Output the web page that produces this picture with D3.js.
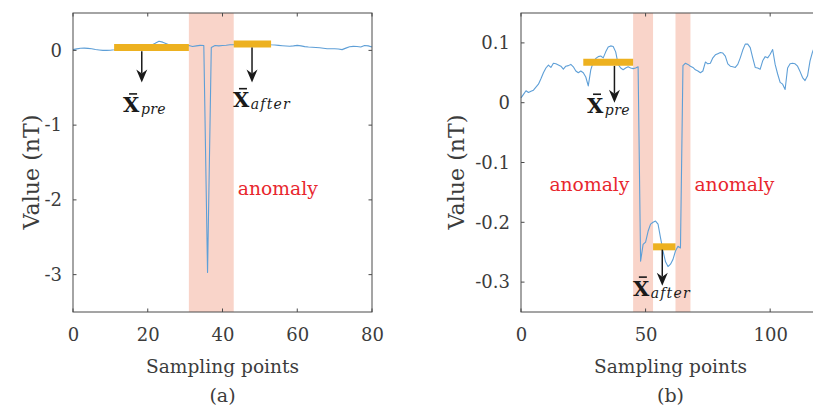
<!DOCTYPE html>
<html>
<head>
<meta charset="utf-8">
<script src="https://cdn.jsdelivr.net/npm/d3@7"></script>
<style>
  html, body { margin: 0; padding: 0; background: #fff; }
  svg { display: block; }
  svg text { font-family: "DejaVu Serif", serif; }
</style>
</head>
<body>
<svg id="chart" width="813" height="408"></svg>
<script>
// ---- data -----------------------------------------------------------------
// (a) single-spike record, 81 samples
const seriesA = [
  0.010, 0.020, 0.028, 0.030, 0.027, 0.022, 0.012, 0.006, 0.000, 0.000,
  0.002, 0.008, 0.020, 0.030, 0.035, 0.040, 0.030, 0.025, 0.030, 0.040,
  0.050, 0.070, 0.095, 0.122, 0.110, 0.090, 0.070, 0.060, 0.050, 0.055,
  0.060, 0.065, 0.052, 0.060, 0.067, 0.065, -2.970, 0.040, 0.065, 0.060,
  0.065, 0.068, 0.075, 0.076, 0.080, 0.085, 0.090, 0.085, 0.080, 0.085,
  0.090, 0.088, 0.082, 0.076, 0.072, 0.067, 0.062, 0.058, 0.055, 0.060,
  0.067, 0.060, 0.050, 0.045, 0.042, 0.038, 0.035, 0.028, 0.022, 0.022,
  0.022, 0.018, 0.010, 0.030, 0.048, 0.054, 0.052, 0.045, 0.065, 0.060,
  0.045
];
// (b) step-like record, 120 samples
const seriesB = [
  0.008, 0.014, 0.020, 0.017, 0.019, 0.021, 0.026, 0.031, 0.040, 0.050,
  0.058, 0.063, 0.059, 0.066, 0.065, 0.063, 0.061, 0.056, 0.061, 0.062,
  0.064, 0.060, 0.053, 0.050, 0.053, 0.050, 0.043, 0.028, 0.055, 0.068,
  0.074, 0.077, 0.078, 0.075, 0.085, 0.093, 0.095, 0.094, 0.085, 0.064,
  0.058, 0.055, 0.058, 0.060, 0.058, 0.057, 0.058, 0.060, -0.265, -0.237,
  -0.233, -0.215, -0.203, -0.200, -0.198, -0.203, -0.226, -0.248, -0.266, -0.274,
  -0.270, -0.262, -0.248, -0.240, -0.243, 0.062, 0.066, 0.064, 0.061, 0.059,
  0.055, 0.053, 0.050, 0.053, 0.068, 0.065, 0.066, 0.075, 0.080, 0.082,
  0.084, 0.083, 0.078, 0.065, 0.061, 0.060, 0.059, 0.064, 0.075, 0.088,
  0.098, 0.098, 0.092, 0.075, 0.059, 0.058, 0.056, 0.070, 0.077, 0.075,
  0.081, 0.089, 0.064, 0.048, 0.034, 0.031, 0.022, 0.058, 0.065, 0.066,
  0.065, 0.061, 0.052, 0.042, 0.037, 0.045, 0.070, 0.085, 0.095, 0.090
];

// anomaly windows [start, end] in sample index
const anomalyA = [[31, 43]];
const anomalyB = [[45, 53], [62, 68]];

// window means drawn as horizontal bars: [start, end, mean]
const meansA = [[11, 31, 0.04], [43, 53, 0.085]];
const meansB = [[25, 45, 0.0675], [53, 62, -0.241]];

// axis ticks
const xTicksA = [0, 20, 40, 60, 80];
const yTicksA = [0, -1, -2, -3];
const xTicksB = [0, 50, 100];
const yTicksB = [0.1, 0, -0.1, -0.2, -0.3];

// ---- layout ---------------------------------------------------------------
const svg = d3.select("#chart");
const C = {
  line: "#5e9fd7",
  band: "#f9d4c9",
  mean: "#edb120",
  axis: "#4a4a4a",
  tick: "#3c3c3c",
  red: "#e8262d"
};

const panels = [
  {
    data: seriesA, anomaly: anomalyA, means: meansA,
    xDomain: [0, 80], yDomain: [-3.5, 0.5],
    xTicks: xTicksA, yTicks: yTicksA, yFmt: d3.format("d"),
    left: 73, right: 372, caption: "(a)", ylabelX: 31,
    arrows: [[18.4, -0.013, -0.43], [47.9, 0.04, -0.43]],
    labels: [
      { x: 13.4, y: -0.83, sub: "pre" },
      { x: 42.8, y: -0.76, sub: "after" }
    ],
    anomalyText: [[44.1, -1.94]]
  },
  {
    data: seriesB, anomaly: anomalyB, means: meansB,
    xDomain: [0, 120], yDomain: [-0.35, 0.15],
    xTicks: xTicksB, yTicks: yTicksB, yFmt: d => d === 0 ? "0" : d3.format(".1f")(d),
    left: 521, right: 820, caption: "(b)", ylabelX: 456,
    arrows: [[37.5, 0.0615, 0.0], [56.7, -0.2457, -0.3059]],
    labels: [
      { x: 26.5, y: -0.0168, sub: "pre" },
      { x: 44.9, y: -0.3226, sub: "after" }
    ],
    anomalyText: [[11.4, -0.148], [69.6, -0.148]]
  }
];

const plotTop = 13, plotBottom = 312;
const hyphen = s => String(s).replace("\u2212", "-");

panels.forEach(p => {
  const x = d3.scaleLinear().domain(p.xDomain).range([p.left, p.right]);
  const y = d3.scaleLinear().domain(p.yDomain).range([plotBottom, plotTop]);
  const g = svg.append("g");

  // anomaly windows
  g.selectAll("rect.band").data(p.anomaly).join("rect")
    .attr("class", "band")
    .attr("x", d => x(d[0]))
    .attr("width", d => x(d[1]) - x(d[0]))
    .attr("y", plotTop).attr("height", plotBottom - plotTop)
    .attr("fill", C.band);

  // signal
  const line = d3.line().x((d, i) => x(i)).y(d => y(d));
  g.append("path").datum(p.data)
    .attr("d", line)
    .attr("fill", "none")
    .attr("stroke", C.line)
    .attr("stroke-width", 1.1)
    .attr("stroke-linejoin", "round");

  // window means
  g.selectAll("line.mean").data(p.means).join("line")
    .attr("class", "mean")
    .attr("x1", d => x(d[0])).attr("x2", d => x(d[1]))
    .attr("y1", d => y(d[2])).attr("y2", d => y(d[2]))
    .attr("stroke", C.mean).attr("stroke-width", 7);

  // arrows pointing from each mean to its label
  p.arrows.forEach(([ax, y0, y1]) => {
    const px = x(ax), py0 = y(y0), py1 = y(y1);
    const head = 13, half = 5.5, notch = 4;
    g.append("line")
      .attr("x1", px).attr("x2", px)
      .attr("y1", py0).attr("y2", py1 - head + notch)
      .attr("stroke", "#1a1a1a").attr("stroke-width", 1.5);
    g.append("path")
      .attr("d", `M${px},${py1} L${px - half},${py1 - head} L${px},${py1 - head + notch} L${px + half},${py1 - head} Z`)
      .attr("fill", "#1a1a1a");
  });

  // mean labels: bold X with overbar and italic subscript
  p.labels.forEach(l => {
    const px = x(l.x), py = y(l.y);
    const t = g.append("text")
      .attr("x", px).attr("y", py)
      .attr("fill", "#1a1a1a");
    t.append("tspan").text("X")
      .attr("font-weight", "bold").attr("font-size", 21);
    t.append("tspan").text(l.sub)
      .attr("font-style", "italic").attr("font-size", 14)
      .attr("letter-spacing", l.sub === "after" ? 1.2 : 0.4)
      .attr("dx", 1.5).attr("dy", 2);
    g.append("line")
      .attr("x1", px + 6).attr("x2", px + 14)
      .attr("y1", py - 18.5).attr("y2", py - 18.5)
      .attr("stroke", "#1a1a1a").attr("stroke-width", 1.6);
  });

  // anomaly annotations
  p.anomalyText.forEach(([ax, ay]) => {
    g.append("text")
      .attr("x", x(ax)).attr("y", y(ay))
      .attr("font-size", 18.7)
      .attr("textLength", 80).attr("lengthAdjust", "spacingAndGlyphs")
      .attr("fill", C.red)
      .text("anomaly");
  });

  // axes box with inward ticks on all sides
  const tickLen = 3.5;
  const axB = d3.axisBottom(x).tickValues(p.xTicks).tickSize(0).tickPadding(16)
    .tickFormat(d => hyphen(d));
  const axL = d3.axisLeft(y).tickValues(p.yTicks).tickSize(0).tickPadding(11)
    .tickFormat(d => hyphen(p.yFmt(d)));

  const gx = g.append("g").attr("transform", `translate(0,${plotBottom})`).call(axB);
  const gy = g.append("g").attr("transform", `translate(${p.left},0)`).call(axL);
  [gx, gy].forEach(a => {
    a.attr("font-family", null);
    a.select(".domain").remove();
    a.selectAll("text")
      .attr("font-size", 18)
      .attr("fill", C.tick);
  });

  g.append("rect")
    .attr("x", p.left).attr("y", plotTop)
    .attr("width", p.right - p.left).attr("height", plotBottom - plotTop)
    .attr("fill", "none").attr("stroke", C.axis).attr("stroke-width", 1);

  p.xTicks.forEach(v => {
    [[plotBottom, plotBottom - tickLen], [plotTop, plotTop + tickLen]].forEach(([a, b]) => {
      g.append("line").attr("x1", x(v)).attr("x2", x(v)).attr("y1", a).attr("y2", b)
        .attr("stroke", C.axis);
    });
  });
  p.yTicks.forEach(v => {
    [[p.left, p.left + tickLen], [p.right, p.right - tickLen]].forEach(([a, b]) => {
      g.append("line").attr("x1", a).attr("x2", b).attr("y1", y(v)).attr("y2", y(v))
        .attr("stroke", C.axis);
    });
  });

  // axis titles and caption
  const cx = (p.left + p.right) / 2;
  g.append("text")
    .attr("x", cx).attr("y", 372.5)
    .attr("text-anchor", "middle")
    .attr("font-size", 18.6)
    .attr("textLength", 153).attr("lengthAdjust", "spacingAndGlyphs")
    .attr("fill", C.tick)
    .text("Sampling points");
  g.append("text")
    .attr("x", cx).attr("y", 402)
    .attr("text-anchor", "middle")
    .attr("font-size", 19).attr("fill", C.tick)
    .text(p.caption);
  g.append("text")
    .attr("transform", `translate(${p.ylabelX},172) rotate(-90)`)
    .attr("text-anchor", "middle")
    .attr("dy", "0.35em")
    .attr("font-size", 23)
    .attr("textLength", 115).attr("lengthAdjust", "spacingAndGlyphs")
    .attr("fill", C.tick)
    .text("Value (nT)");
});
</script>
</body>
</html>
